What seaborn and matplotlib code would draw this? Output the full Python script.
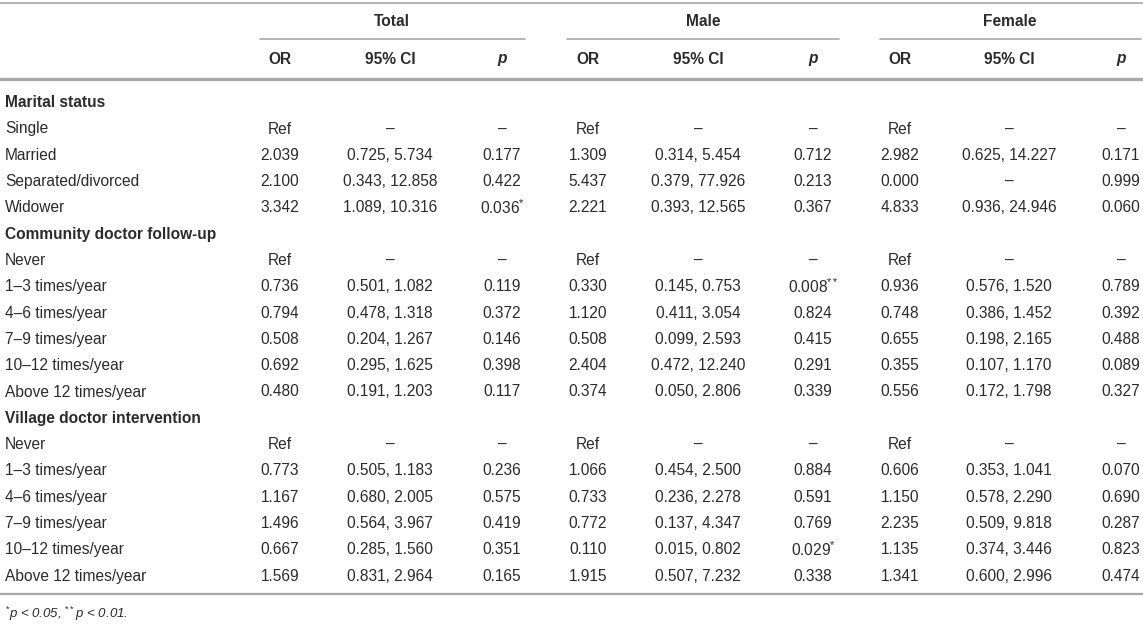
import pandas as pd
import seaborn as sns
import matplotlib.pyplot as plt

# Table content
row_labels = ['Marital status', 'Single', 'Married', 'Separated/divorced', 'Widower',
              'Community doctor follow-up', 'Never', '1–3 times/year', '4–6 times/year',
              '7–9 times/year', '10–12 times/year', 'Above 12 times/year',
              'Village doctor intervention', 'Never', '1–3 times/year', '4–6 times/year',
              '7–9 times/year', '10–12 times/year', 'Above 12 times/year']
is_section = [True, False, False, False, False,
              True, False, False, False, False, False, False,
              True, False, False, False, False, False, False]

total_or = ['', 'Ref', '2.039', '2.100', '3.342',
            '', 'Ref', '0.736', '0.794', '0.508', '0.692', '0.480',
            '', 'Ref', '0.773', '1.167', '1.496', '0.667', '1.569']
total_ci = ['', '–', '0.725, 5.734', '0.343, 12.858', '1.089, 10.316',
            '', '–', '0.501, 1.082', '0.478, 1.318', '0.204, 1.267', '0.295, 1.625', '0.191, 1.203',
            '', '–', '0.505, 1.183', '0.680, 2.005', '0.564, 3.967', '0.285, 1.560', '0.831, 2.964']
total_p = ['', '–', '0.177', '0.422', '0.036*',
           '', '–', '0.119', '0.372', '0.146', '0.398', '0.117',
           '', '–', '0.236', '0.575', '0.419', '0.351', '0.165']

male_or = ['', 'Ref', '1.309', '5.437', '2.221',
           '', 'Ref', '0.330', '1.120', '0.508', '2.404', '0.374',
           '', 'Ref', '1.066', '0.733', '0.772', '0.110', '1.915']
male_ci = ['', '–', '0.314, 5.454', '0.379, 77.926', '0.393, 12.565',
           '', '–', '0.145, 0.753', '0.411, 3.054', '0.099, 2.593', '0.472, 12.240', '0.050, 2.806',
           '', '–', '0.454, 2.500', '0.236, 2.278', '0.137, 4.347', '0.015, 0.802', '0.507, 7.232']
male_p = ['', '–', '0.712', '0.213', '0.367',
          '', '–', '0.008**', '0.824', '0.415', '0.291', '0.339',
          '', '–', '0.884', '0.591', '0.769', '0.029*', '0.338']

female_or = ['', 'Ref', '2.982', '0.000', '4.833',
             '', 'Ref', '0.936', '0.748', '0.655', '0.355', '0.556',
             '', 'Ref', '0.606', '1.150', '2.235', '1.135', '1.341']
female_ci = ['', '–', '0.625, 14.227', '–', '0.936, 24.946',
             '', '–', '0.576, 1.520', '0.386, 1.452', '0.198, 2.165', '0.107, 1.170', '0.172, 1.798',
             '', '–', '0.353, 1.041', '0.578, 2.290', '0.509, 9.818', '0.374, 3.446', '0.600, 2.996']
female_p = ['', '–', '0.171', '0.999', '0.060',
            '', '–', '0.789', '0.392', '0.488', '0.089', '0.327',
            '', '–', '0.070', '0.690', '0.287', '0.823', '0.474']

groups = ['Total', 'Male', 'Female']
sub_headers = ['OR', '95% CI', 'p']
footnote = '$^{*}$p < 0.05, $^{**}$p < 0.01.'

df = pd.DataFrame({
    'label': row_labels, 'section': is_section,
    'Total_OR': total_or, 'Total_CI': total_ci, 'Total_p': total_p,
    'Male_OR': male_or, 'Male_CI': male_ci, 'Male_p': male_p,
    'Female_OR': female_or, 'Female_CI': female_ci, 'Female_p': female_p,
})

sns.set_theme(style='white')
plt.rcParams['font.family'] = ['Liberation Sans', 'DejaVu Sans']
plt.rcParams['mathtext.fontset'] = 'custom'
plt.rcParams['mathtext.rm'] = 'Liberation Sans'
plt.rcParams['mathtext.it'] = 'Liberation Sans:italic'

TEXT = '#2b2b2b'
LINE = '#a8a8a8'
FS = 11.2

fig = plt.figure(figsize=(11.43, 6.3), dpi=100)
ax = fig.add_axes([0, 0, 1, 1])
ax.set_xlim(0, 1143)
ax.set_ylim(630, 0)
ax.axis('off')

# column layout (pixel positions)
col_x = {'Total': [280, 390, 502], 'Male': [588, 698, 813], 'Female': [900, 1009, 1121]}
group_x = {'Total': 392, 'Male': 703, 'Female': 1010}
group_line = {'Total': (260, 525), 'Male': (567, 839), 'Female': (880, 1141)}

# rules
ax.plot([0, 1143], [3, 3], color=LINE, lw=1.2)
ax.plot([0, 1143], [79, 79], color=LINE, lw=2.4)
ax.plot([0, 1143], [594, 594], color=LINE, lw=1.6)

for g in groups:
    ax.text(group_x[g], 21, g, ha='center', va='center', fontsize=FS,
            fontweight='bold', color=TEXT)
    x0, x1 = group_line[g]
    ax.plot([x0, x1], [39, 39], color=LINE, lw=1.2)
    for xc, h in zip(col_x[g], sub_headers):
        style = 'italic' if h == 'p' else 'normal'
        ax.text(xc, 59, h, ha='center', va='center', fontsize=FS,
                fontweight='bold', style=style, color=TEXT)


def fmt(v):
    if v.endswith('**'):
        return v[:-2] + '$^{**}$'
    if v.endswith('*'):
        return v[:-1] + '$^{*}$'
    return v


y0, pitch = 102.7, 26.3
for i, row in df.iterrows():
    y = y0 + i * pitch
    ax.text(5, y, row['label'], ha='left', va='center', fontsize=FS, color=TEXT,
            fontweight='bold' if row['section'] else 'normal')
    if row['section']:
        continue
    for g in groups:
        vals = [row[f'{g}_OR'], row[f'{g}_CI'], row[f'{g}_p']]
        for xc, v in zip(col_x[g], vals):
            ax.text(xc, y, fmt(v), ha='center', va='center', fontsize=FS, color=TEXT)

ax.text(5, 614, footnote, ha='left', va='center', fontsize=9.5, style='italic', color=TEXT)

plt.savefig('out.png', dpi=100)
plt.close()
